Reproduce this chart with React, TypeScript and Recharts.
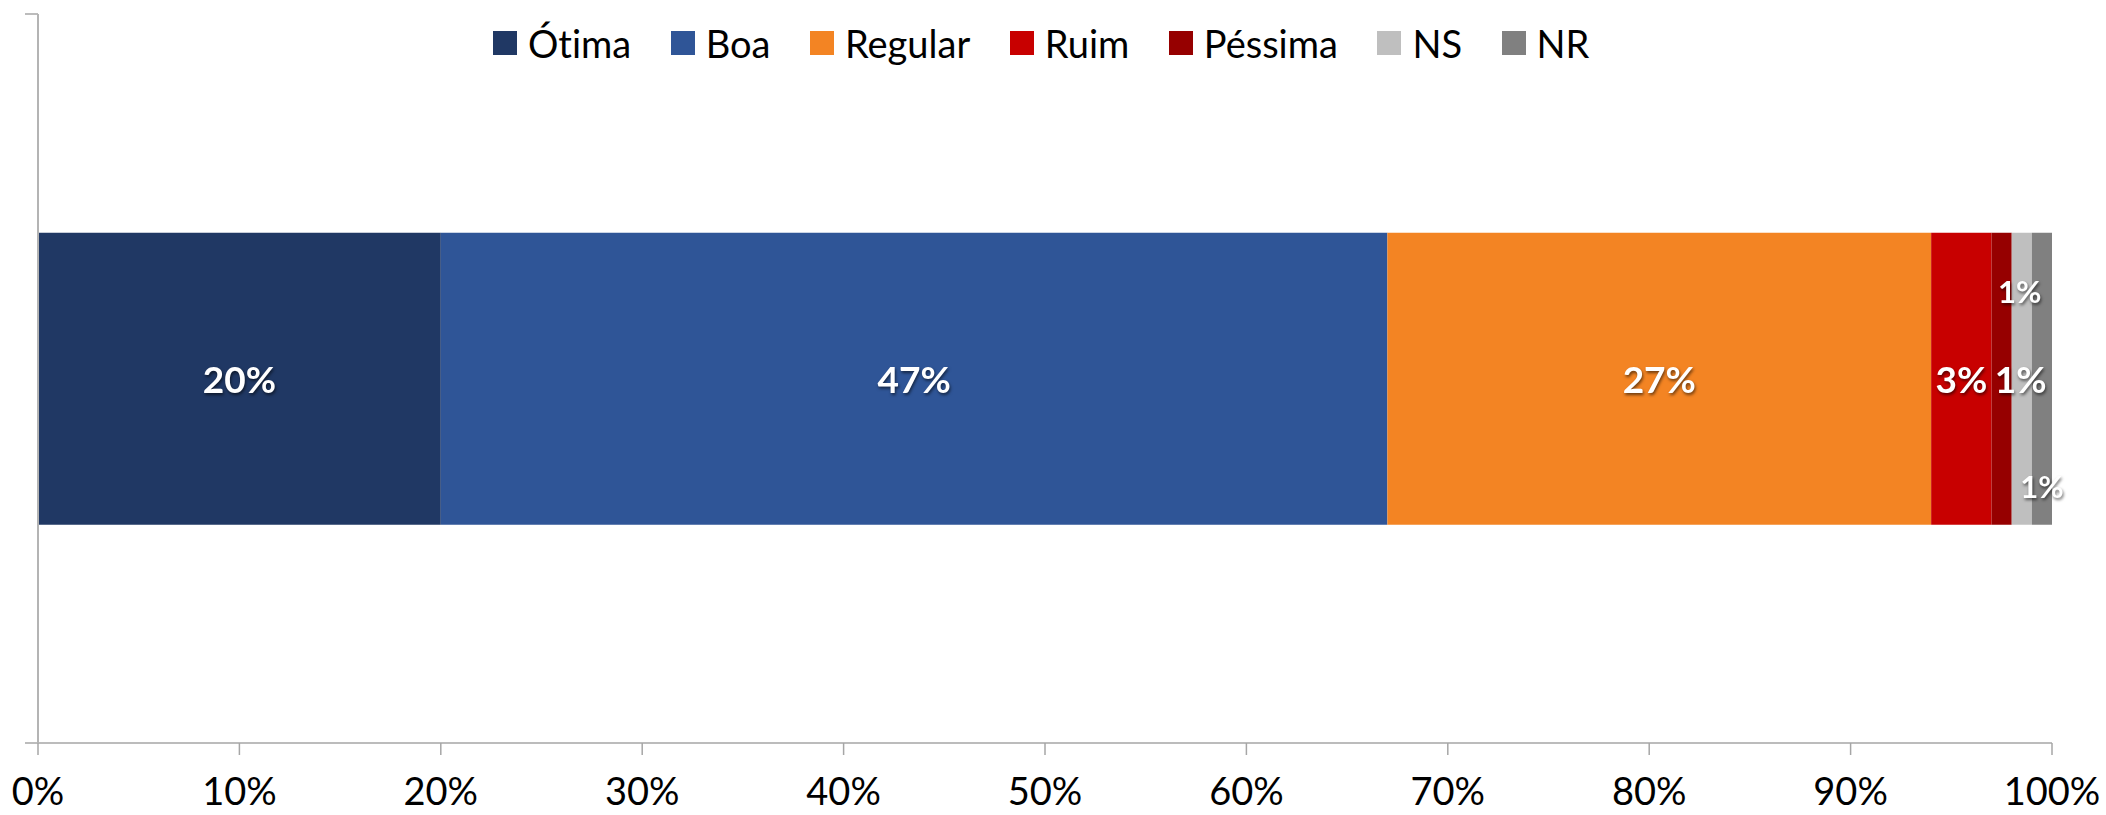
import React from 'react';
import * as R from 'recharts';
import { BarChart, Bar, XAxis, YAxis, Legend, LabelList } from 'recharts';

const categories = [''];
const seriesNames = ['Ótima', 'Boa', 'Regular', 'Ruim', 'Péssima', 'NS', 'NR'];
const seriesValues = [20, 47, 27, 3, 1, 1, 1];
const seriesColors = ['#203864', '#2F5597', '#F38423', '#C80000', '#960000', '#BFBFBF', '#808080'];
const xTicks = [0, 10, 20, 30, 40, 50, 60, 70, 80, 90, 100];
const xTickLabels = ['0%', '10%', '20%', '30%', '40%', '50%', '60%', '70%', '80%', '90%', '100%'];

// label placement styles per series: [dx, dy, fontSize]
const labelStyles: [number, number, number][] = [
  [0, 0, 37],
  [0, 0, 37],
  [0, 0, 37],
  [0, 0, 37],
  [19, 0, 37],
  [-2, -88, 31],
  [0, 107, 31],
];

const data = categories.map((c) => {
  const row: Record<string, number | string> = { name: c };
  seriesNames.forEach((s, i) => {
    row[s] = seriesValues[i];
  });
  return row;
});

const FONT = 'Lato, "Open Sans", sans-serif';
const AXIS_GRAY = '#A6A6A6';

const usePlotAreaSafe: () => any = (R as any).usePlotArea || (R as any).useOffset || (() => null);

const EdgeTicks = () => {
  const pa = usePlotAreaSafe();
  if (!pa) return null;
  const left = pa.x ?? pa.left;
  const top = pa.y ?? pa.top;
  const h = pa.height;
  if (left == null || top == null || h == null) return null;
  return (
    <g>
      <line x1={left - 13} x2={left} y1={top} y2={top} stroke={AXIS_GRAY} strokeWidth={1.5} />
      <line x1={left - 13} x2={left} y1={top + h} y2={top + h} stroke={AXIS_GRAY} strokeWidth={1.5} />
    </g>
  );
};

const makeLabel = (idx: number) => (props: any) => {
  const { x, y, width, height, value } = props;
  const [dx, dy, fs] = labelStyles[idx];
  return (
    <text
      x={Number(x) + Number(width) / 2 + dx}
      y={Number(y) + Number(height) / 2 + dy}
      textAnchor="middle"
      dominantBaseline="central"
      fill="#FFFFFF"
      fontWeight={700}
      fontSize={fs}
      fontFamily={FONT}
      style={{ filter: 'drop-shadow(1.5px 2px 1.5px rgba(0,0,0,0.55))' }}
    >
      {value}%
    </text>
  );
};

const LegendContent = () => (
  <div
    style={{
      display: 'flex',
      alignItems: 'center',
      fontFamily: FONT,
      fontSize: 38,
      color: '#000',
      whiteSpace: 'nowrap',
      fontVariantLigatures: 'none',
    }}
  >
    {seriesNames.map((s, i) => (
      <div key={s} style={{ display: 'flex', alignItems: 'center', marginRight: i < seriesNames.length - 1 ? 39.5 : 0 }}>
        <div style={{ width: 24, height: 24, background: seriesColors[i], marginRight: 11 }} />
        <span style={{ lineHeight: '40px' }}>{s}</span>
      </div>
    ))}
  </div>
);

export default function App() {
  return (
    <div style={{ position: 'absolute', left: 0, top: 0, width: 2106, height: 815, background: '#fff', fontFamily: FONT }}>
      <BarChart
        width={2106}
        height={815}
        data={data}
        layout="vertical"
        margin={{ top: 14, right: 54, left: 37, bottom: 0 }}
        barCategoryGap="30%"
      >
        <XAxis
          type="number"
          domain={[0, 100]}
          ticks={xTicks}
          height={72}
          tickFormatter={(v: number) => xTickLabels[xTicks.indexOf(v)]}
          axisLine={{ stroke: AXIS_GRAY, strokeWidth: 1.5 }}
          tickLine={{ stroke: AXIS_GRAY, strokeWidth: 1.5 }}
          tickSize={12}
          tickMargin={23}
          tick={{ fill: '#000', fontSize: 38, fontFamily: FONT }}
          interval={0}
        />
        <YAxis
          type="category"
          dataKey="name"
          width={1}
          tick={false}
          tickLine={false}
          axisLine={{ stroke: '#B4B4B4', strokeWidth: 2 }}
        />
        <Legend
          verticalAlign="middle"
          align="center"
          layout="horizontal"
          content={<LegendContent />}
          wrapperStyle={{ top: 23, left: 493, width: 'auto' }}
        />
        {seriesNames.map((s, i) => (
          <Bar key={s} dataKey={s} stackId="a" fill={seriesColors[i]} isAnimationActive={false}>
            <LabelList dataKey={s} content={makeLabel(i)} />
          </Bar>
        ))}
        <EdgeTicks />
      </BarChart>
    </div>
  );
}
